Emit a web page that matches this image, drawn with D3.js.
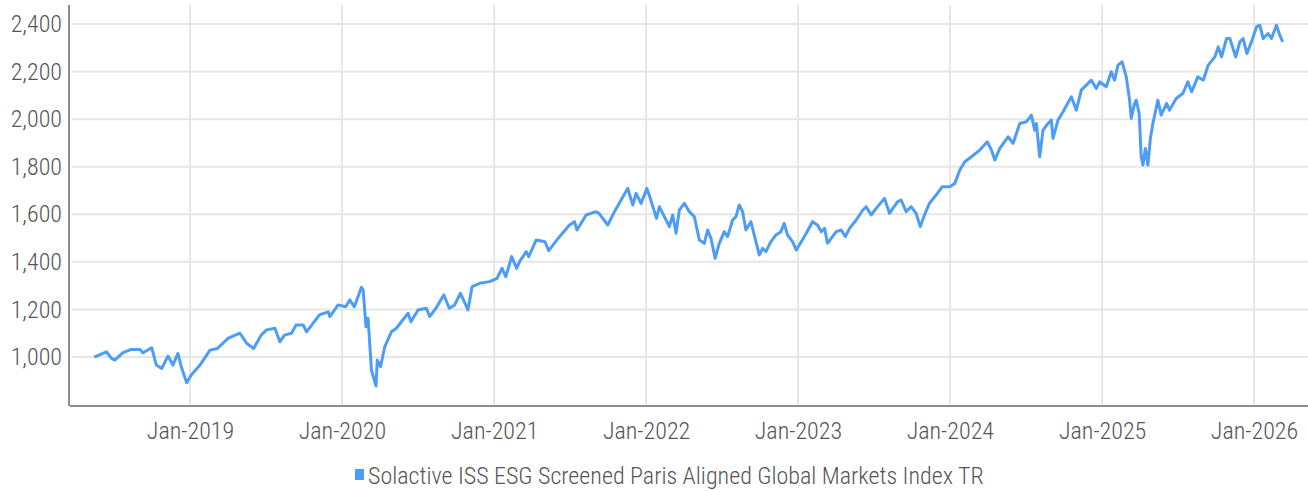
<!DOCTYPE html>
<html>
<head>
<meta charset="utf-8">
<script src="https://cdn.jsdelivr.net/npm/d3@7"></script>
<style>
    body { margin: 0; background: #fff; }
    svg { display: block; font-family: "Roboto Condensed", Roboto, sans-serif; font-weight: 300; }
</style>
</head>
<body>
<svg id="chart"></svg>
<script>
// series name shown in the legend
const seriesName = "Solactive ISS ESG Screened Paris Aligned Global Markets Index TR";

// index levels
const dates = [
    "2018-05-16","2018-06-14","2018-06-26","2018-07-04","2018-07-24","2018-08-13","2018-09-03","2018-09-10",
    "2018-10-01","2018-10-12","2018-10-25","2018-11-09","2018-11-21","2018-12-03","2018-12-11","2018-12-24",
    "2019-01-04","2019-01-25","2019-02-18","2019-03-08","2019-04-03","2019-05-01","2019-05-17","2019-06-03",
    "2019-06-21","2019-07-04","2019-07-24","2019-08-05","2019-08-16","2019-09-02","2019-09-13","2019-09-30",
    "2019-10-08","2019-11-08","2019-11-29","2019-12-03","2019-12-23",
    "2020-01-10","2020-01-20","2020-01-31","2020-02-17","2020-02-21","2020-02-28","2020-03-04","2020-03-12",
    "2020-03-23","2020-03-26","2020-04-03","2020-04-13","2020-04-29","2020-05-11","2020-06-08","2020-06-15",
    "2020-07-02","2020-07-22","2020-07-30","2020-08-14","2020-09-02","2020-09-15","2020-09-28","2020-10-12",
    "2020-10-30","2020-11-09","2020-11-27","2020-12-21",
    "2021-01-08","2021-01-20","2021-01-29","2021-02-12","2021-02-24","2021-03-03","2021-03-19","2021-03-25",
    "2021-04-12","2021-05-03","2021-05-12","2021-06-07","2021-07-01","2021-07-13","2021-07-19","2021-08-10",
    "2021-09-03","2021-09-10","2021-10-01","2021-10-17","2021-11-02","2021-11-18","2021-11-30","2021-12-08",
    "2021-12-20",
    "2022-01-03","2022-01-10","2022-01-26","2022-02-02","2022-02-14","2022-02-26","2022-03-06","2022-03-14",
    "2022-03-22","2022-04-03","2022-04-15","2022-04-27","2022-05-09","2022-05-21","2022-05-29","2022-06-06",
    "2022-06-16","2022-06-26","2022-07-08","2022-07-16","2022-07-28","2022-08-05","2022-08-13","2022-08-21",
    "2022-08-29","2022-09-10","2022-09-18","2022-09-30","2022-10-08","2022-10-16","2022-10-28","2022-11-09",
    "2022-11-21","2022-11-29","2022-12-07","2022-12-19","2022-12-28",
    "2023-01-09","2023-01-21","2023-02-05","2023-02-17","2023-02-26","2023-03-06","2023-03-13","2023-03-25",
    "2023-04-03","2023-04-15","2023-04-25","2023-05-05","2023-05-21","2023-06-06","2023-06-14","2023-06-26",
    "2023-07-08","2023-07-28","2023-08-09","2023-08-17","2023-08-29","2023-09-06","2023-09-18","2023-09-30",
    "2023-10-12","2023-10-22","2023-11-01","2023-11-13","2023-11-29","2023-12-14",
    "2024-01-01","2024-01-13","2024-01-25","2024-02-06","2024-02-22","2024-03-13","2024-03-31","2024-04-10",
    "2024-04-18","2024-04-30","2024-05-20","2024-06-01","2024-06-17","2024-07-03","2024-07-15","2024-07-23",
    "2024-07-27","2024-08-04","2024-08-12","2024-08-24","2024-09-01","2024-09-05","2024-09-17","2024-09-29",
    "2024-10-19","2024-10-31","2024-11-12","2024-11-24","2024-12-06","2024-12-18","2024-12-26",
    "2025-01-11","2025-01-23","2025-01-31","2025-02-08","2025-02-18","2025-02-28","2025-03-08","2025-03-12",
    "2025-03-20","2025-03-24","2025-03-31","2025-04-05","2025-04-09","2025-04-15","2025-04-21","2025-04-27",
    "2025-05-03","2025-05-15","2025-05-23","2025-06-05","2025-06-12","2025-06-28","2025-07-14","2025-07-26",
    "2025-08-04","2025-08-19","2025-09-01","2025-09-13","2025-09-29","2025-10-07","2025-10-15","2025-10-27",
    "2025-11-04","2025-11-18","2025-11-28","2025-12-06","2025-12-15","2025-12-26",
    "2026-01-07","2026-01-15","2026-01-23","2026-02-04","2026-02-12","2026-02-24","2026-03-04","2026-03-11"
];

const values = [
    1000,1022,995,987,1018,1032,1032,1018,
    1039,966,952,1004,966,1015,959,892,
    924,966,1029,1036,1079,1100,1058,1036,
    1092,1114,1121,1064,1092,1100,1135,1135,
    1106,1177,1190,1170,1219,
    1211,1240,1211,1293,1282,1127,1163,945,
    878,987,959,1043,1106,1121,1184,1148,
    1198,1205,1170,1205,1261,1205,1219,1268,
    1198,1296,1310,1317,
    1331,1373,1338,1422,1373,1401,1443,1422,
    1492,1485,1447,1506,1555,1569,1534,1597,
    1611,1604,1555,1611,1660,1709,1639,1688,
    1646,
    1709,1674,1583,1632,1590,1548,1597,1520,
    1618,1646,1611,1590,1492,1478,1534,1499,
    1415,1478,1527,1506,1576,1590,1639,1611,
    1534,1569,1513,1429,1457,1443,1485,1513,
    1527,1562,1513,1485,1450,
    1485,1520,1569,1555,1527,1541,1478,1506,
    1527,1534,1506,1541,1576,1618,1632,1597,
    1625,1667,1604,1625,1653,1660,1611,1632,
    1604,1548,1597,1646,1681,1716,
    1716,1730,1786,1821,1842,1870,1905,1870,
    1828,1877,1926,1898,1982,1989,2017,1954,
    1982,1842,1954,1982,1996,1919,1996,2031,
    2094,2038,2122,2143,2164,2129,2157,
    2136,2199,2164,2227,2241,2178,2080,2003,
    2066,2080,2024,1842,1807,1877,1807,1919,
    1982,2080,2017,2066,2038,2087,2108,2157,
    2115,2178,2164,2227,2262,2304,2262,2339,
    2339,2262,2325,2339,2276,2325,
    2388,2395,2339,2360,2339,2395,2353,2325
];

// axis ticks
const yTicks = [1000, 1200, 1400, 1600, 1800, 2000, 2200, 2400];
const xTickYears = [2019, 2020, 2021, 2022, 2023, 2024, 2025, 2026];

const Dims = {
    width: 1308,
    height: 491,
    plotLeft: 70,
    plotRight: 1308,
    plotTop: 5,
    plotBottom: 406,
    fontSize: 24
};

const lineColour = "#4d9cf6";
const textColour = "#555";

const parseDate = d3.timeParse("%Y-%m-%d");
const data = dates.map((d, i) => ({ date: parseDate(d), value: values[i] }));

const svg = d3.select("#chart")
    .attr("width", Dims.width)
    .attr("height", Dims.height);

// time scale pinned so that each January gridline lands where it does in the source
const x = d3.scaleTime()
    .domain([new Date(2019, 0, 1), new Date(2026, 0, 1)])
    .range([190, 1254]);

const y = d3.scaleLinear()
    .domain([794, 2480])
    .range([Dims.plotBottom, Dims.plotTop]);

// horizontal gridlines
svg.append("g")
    .selectAll("line")
    .data(yTicks)
    .join("line")
    .attr("x1", Dims.plotLeft + 2)
    .attr("x2", Dims.plotRight)
    .attr("y1", d => y(d))
    .attr("y2", d => y(d))
    .attr("stroke", "#e6e6e6")
    .attr("stroke-width", 2);

// vertical gridlines at each January
const xTicks = xTickYears.map(yr => new Date(yr, 0, 1));
svg.append("g")
    .selectAll("line")
    .data(xTicks)
    .join("line")
    .attr("x1", d => x(d))
    .attr("x2", d => x(d))
    .attr("y1", Dims.plotTop)
    .attr("y2", Dims.plotBottom)
    .attr("stroke", "#e6e6e6")
    .attr("stroke-width", 2);

// the index line
const line = d3.line()
    .x(d => x(d.date))
    .y(d => y(d.value));

svg.append("path")
    .datum(data)
    .attr("fill", "none")
    .attr("stroke", lineColour)
    .attr("stroke-width", 3)
    .attr("stroke-linejoin", "round")
    .attr("d", line);

const styleText = g => g.selectAll("text")
    .attr("font-size", Dims.fontSize)
    .attr("font-family", "\"Roboto Condensed\", Roboto, sans-serif")
    .attr("font-weight", 300)
    .attr("fill", textColour);

// left axis
svg.append("g")
    .attr("transform", `translate(${Dims.plotLeft - 1},0)`)
    .call(d3.axisLeft(y).tickValues(yTicks).tickFormat(d3.format(",")).tickSize(0).tickPadding(7))
    .call(g => g.select(".domain").attr("stroke", "#8c8c8c").attr("stroke-width", 2)
        .attr("d", `M0,${Dims.plotTop}V${Dims.plotBottom}`))
    .call(styleText);

// bottom axis
svg.append("g")
    .attr("transform", `translate(0,${Dims.plotBottom})`)
    .call(d3.axisBottom(x).tickValues(xTicks).tickFormat(d3.timeFormat("Jan-%Y")).tickSize(0).tickPadding(16))
    .call(g => g.select(".domain").attr("stroke", "#8c8c8c").attr("stroke-width", 2)
        .attr("d", `M${Dims.plotLeft},0H${Dims.plotRight}`))
    .call(styleText);

// legend
const legend = svg.append("g")
    .attr("transform", "translate(355,469)");

legend.append("rect")
    .attr("width", 9)
    .attr("height", 11)
    .attr("fill", lineColour);

legend.append("text")
    .attr("x", 13)
    .attr("y", 15)
    .attr("font-size", Dims.fontSize)
    .attr("fill", textColour)
    .text(seriesName);
</script>
</body>
</html>
